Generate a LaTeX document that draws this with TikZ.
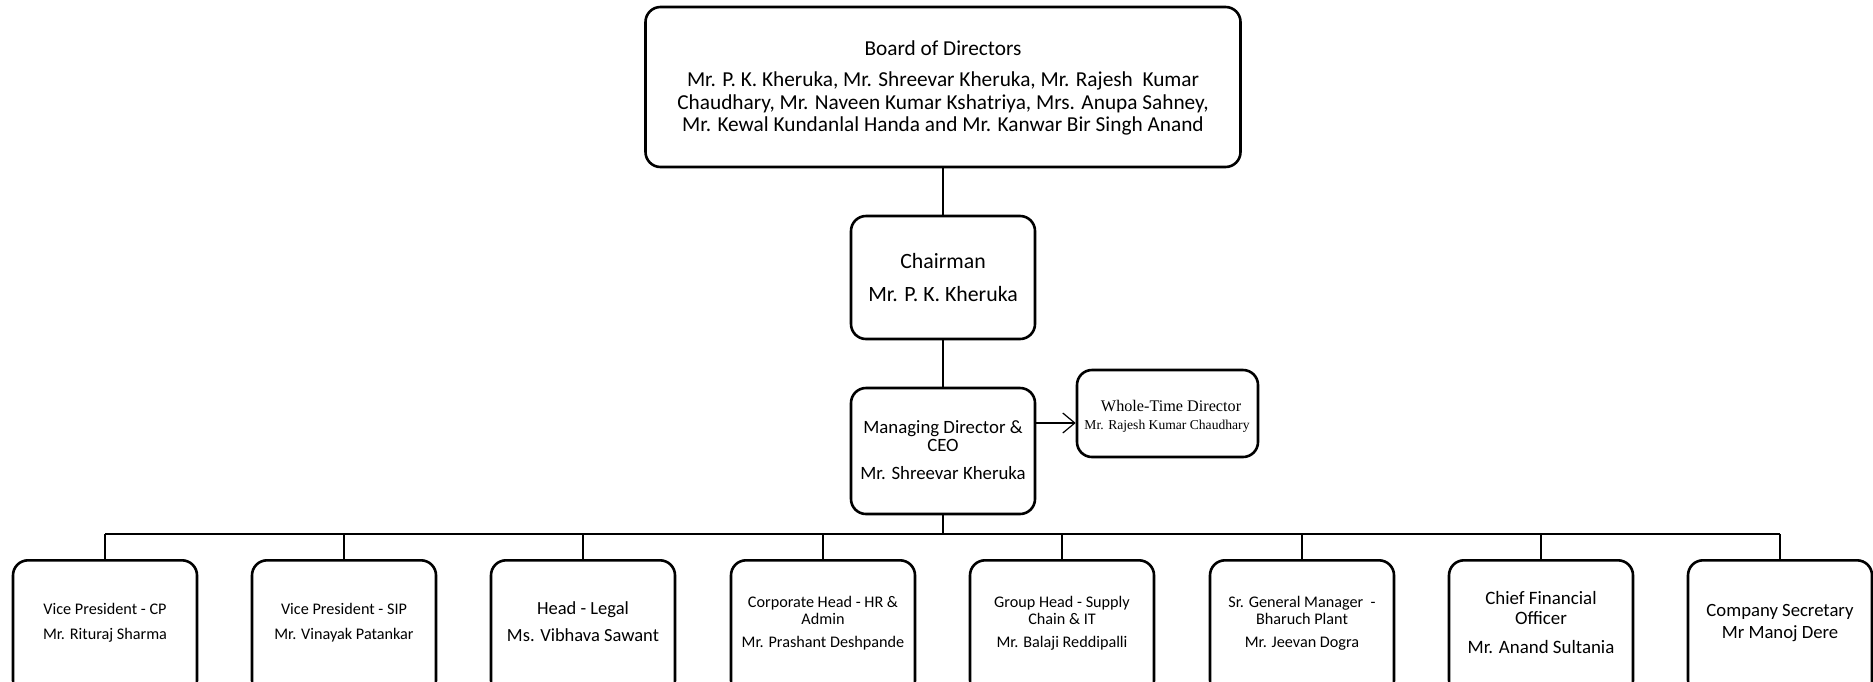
\documentclass[tikz,border=0pt]{standalone}
\usepackage{fontspec}
\setmainfont{Carlito}
\newfontfamily\tnr{Liberation Serif}
\usetikzlibrary{arrows.meta}
\newcommand{\fs}[2]{\fontsize{#1pt}{#2pt}\selectfont}
\tikzset{
  box/.style={draw=black, line width=2.6pt, rounded corners=15pt, align=center, inner sep=0pt, fill=white},
  conn/.style={draw=black, line width=2.4pt},
  arr/.style={draw=black, line width=1.2pt, -{Straight Barb[length=12pt,width=20pt,line width=1.2pt]}},
}
\begin{document}
\begin{tikzpicture}[x=1pt,y=-1pt]
\useasboundingbox (0,0) rectangle (1873,681);
\clip (0,0) rectangle (1873,681);
% Board
\node[box, minimum width=595pt, minimum height=160pt] (board) at (943,87) {};
\node[align=center, font=\fs{21.3}{22.7}] (boardt) at (943,88) {Board of Directors\\[8.3pt]Mr. P. K. Kheruka, Mr. Shreevar Kheruka, Mr. Rajesh\ \ Kumar\\Chaudhary, Mr. Naveen Kumar Kshatriya, Mrs. Anupa Sahney,\\Mr. Kewal Kundanlal Handa and Mr. Kanwar Bir Singh Anand};
% Chairman
\node[box, minimum width=184pt, minimum height=123pt, font=\fs{21.8}{33.5}] (chair) at (943,277.5) {Chairman\\Mr. P. K. Kheruka};
% MD
\node[box, minimum width=184pt, minimum height=126pt] (md) at (943,451) {};
\node[align=center, font=\fs{18.8}{18}] (mdt) at (943,450) {Managing Director \&\\CEO\\[10.7pt]Mr. Shreevar Kheruka};
% WTD
\node[box, minimum width=181pt, minimum height=87pt] (wtd) at (1167.5,413.5) {};
\node[align=center, font=\tnr\fs{16.2}{18}] (wtdt) at (1167,416) {\ \ Whole-Time Director\\{\fs{13.6}{14}Mr. Rajesh Kumar Chaudhary}};
\draw[arr] (md.east |- 0,423) -- (wtd.west |- 0,423);
% bus
\coordinate (bus) at (943,534);
\draw[conn] (board.south) -- (chair.north);
\draw[conn] (chair.south) -- (md.north);
\draw[conn] (md.south) -- (bus);
% bottom boxes
\foreach \i/\x in {1/105,2/344,3/583,4/823,5/1062,6/1302,7/1541,8/1780}{
  \node[box, minimum width=184pt, minimum height=135pt, anchor=north] (b\i) at (\x,559) {};
}
\draw[conn] (b1.north |- bus) -- (b8.north |- bus);
\foreach \i in {1,...,8}{ \draw[conn] (b\i.north |- bus) -- (b\i.north); }
\node[align=center, font=\fs{16.2}{25}] (t1) at (105,622.5) {Vice President - CP\\Mr. Rituraj Sharma};
\node[align=center, font=\fs{16.2}{25}] (t2) at (344,622.5) {Vice President - SIP\\Mr. Vinayak Patankar};
\node[align=center, font=\fs{18.5}{27}] (t3) at (583,622) {Head - Legal\\Ms. Vibhava Sawant};
\node[align=center, font=\fs{16.2}{17}] (t4) at (823,623) {Corporate Head - HR \&\\Admin\\[6pt]Mr. Prashant Deshpande};
\node[align=center, font=\fs{16.2}{17}] (t5) at (1062,623) {Group Head - Supply\\Chain \& IT\\[6pt]Mr. Balaji Reddipalli};
\node[align=center, font=\fs{16.2}{17}] (t6) at (1302,623) {Sr. General Manager\ \ -\\Bharuch Plant\\[6pt]Mr. Jeevan Dogra};
\node[align=center, font=\fs{18.9}{20}] (t7) at (1541,622) {Chief Financial\\Officer\\[9pt]Mr. Anand Sultania};
\node[align=center, font=\fs{18.7}{22}] (t8) at (1780,623.5) {Company Secretary\\Mr Manoj Dere};
\end{tikzpicture}
\end{document}
